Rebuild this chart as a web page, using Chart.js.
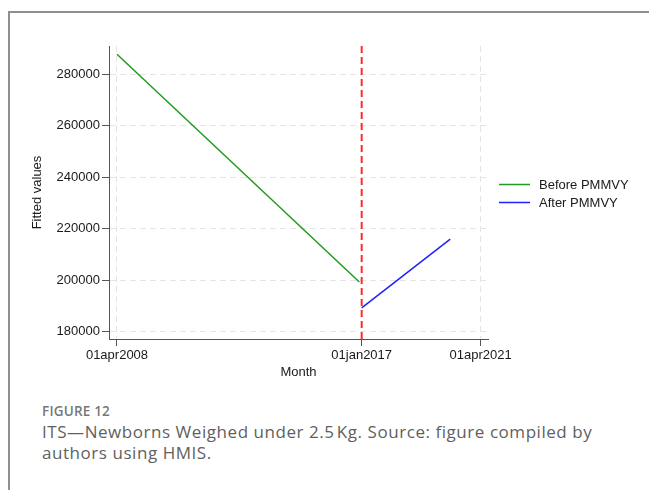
<!DOCTYPE html>
<html>
<head>
<meta charset="utf-8">
<script src="https://cdn.jsdelivr.net/npm/chart.js@4.4.1/dist/chart.umd.min.js"></script>
<style>
  html, body { margin: 0; padding: 0; background: #fff; overflow: hidden; }
  #page { position: relative; width: 649px; height: 490px; overflow: hidden; }
  #frame { position: absolute; left: 8px; top: 11px; width: 700px; height: 600px;
           border: 2px solid #8f8f8f; box-sizing: border-box; }
  #plot { position: absolute; left: 0; top: 0; }
  #figno { position: absolute; left: 42px; top: 402px; font-family: "Open Sans", sans-serif;
           font-weight: 600; font-size: 13.5px; color: #777; letter-spacing: 0.2px; }
  #caption { position: absolute; left: 42px; top: 421px; width: 575px; font-family: "Open Sans", sans-serif;
             font-weight: 400; font-size: 17px; line-height: 21px; color: #5f5f5f; letter-spacing: 0.55px; }
</style>
</head>
<body>
<div id="page">
  <div id="frame"></div>
  <canvas id="plot" width="649" height="390"></canvas>
  <div id="figno">FIGURE 12</div>
  <div id="caption">ITS—Newborns Weighed under 2.5&#8202;Kg. Source: figure compiled by authors using HMIS.</div>
</div>
<script>
// Months counted from April 2008
const tickMonths = [0, 105, 156];
const tickLabels = ['01apr2008', '01jan2017', '01apr2021'];
const yTicks = [180000, 200000, 220000, 240000, 260000, 280000];

// Fitted values before and after the programme start
const beforeMonths = [0, 104];
const beforeFitted = [287800, 199300];
const afterMonths = [105, 143];
const afterFitted = [189250, 216000];

// Programme start (January 2017)
const cutoffMonth = 105;

const xMin = -3.43, xMax = 159.2;
const yMin = 177165, yMax = 291000;

const toPoints = (xs, ys) => xs.map((x, i) => ({ x: x, y: ys[i] }));

Chart.defaults.font.family = '"Liberation Sans", Arial, Helvetica, sans-serif';
Chart.defaults.font.size = 13;
Chart.defaults.color = '#1a1a1a';

// Line-sample legend placed to the right of the plot area
const sideLegend = {
  id: 'sideLegend',
  afterDraw(chart) {
    const { ctx, chartArea } = chart;
    const items = chart.data.datasets.filter(d => d.label);
    const midY = (chartArea.top + chartArea.bottom) / 2;
    const rowH = 18;
    const startY = midY - (items.length - 1) * rowH / 2;
    ctx.save();
    ctx.font = '13px "Liberation Sans", Arial, sans-serif';
    ctx.textBaseline = 'middle';
    ctx.fillStyle = '#1a1a1a';
    items.forEach((d, i) => {
      const y = Math.round(startY + i * rowH) + 0.5;
      ctx.strokeStyle = d.borderColor;
      ctx.lineWidth = 1.5;
      ctx.beginPath();
      ctx.moveTo(chartArea.right + 11, y);
      ctx.lineTo(chartArea.right + 42, y);
      ctx.stroke();
      ctx.fillText(d.label, chartArea.right + 51, y + 0.5);
    });
    ctx.restore();
  }
};

new Chart(document.getElementById('plot'), {
  type: 'line',
  data: {
    datasets: [
      {
        label: 'Before PMMVY',
        data: toPoints(beforeMonths, beforeFitted),
        borderColor: '#1f9a1f',
        borderWidth: 1.5,
        pointRadius: 0,
        tension: 0
      },
      {
        label: 'After PMMVY',
        data: toPoints(afterMonths, afterFitted),
        borderColor: '#2020ff',
        borderWidth: 1.5,
        pointRadius: 0,
        tension: 0
      },
      {
        label: '',
        data: toPoints([cutoffMonth, cutoffMonth], [yMax, yMin]),
        borderColor: '#ff2a2a',
        borderWidth: 2,
        borderDash: [7, 4],
        pointRadius: 0,
        tension: 0
      }
    ]
  },
  options: {
    responsive: false,
    animation: false,
    devicePixelRatio: 1,
    layout: { padding: { left: 29.5, top: 46, right: 161, bottom: 10 } },
    plugins: { legend: { display: false }, tooltip: { enabled: false } },
    scales: {
      x: {
        type: 'linear',
        min: xMin,
        max: xMax,
        afterBuildTicks: s => { s.ticks = tickMonths.map(v => ({ value: v })); },
        afterFit: s => { s.height = 41; },
        ticks: {
          autoSkip: false,
          maxRotation: 0,
          padding: 2,
          callback: v => tickLabels[tickMonths.indexOf(v)]
        },
        grid: {
          color: c => (c.tick && c.tick.value === cutoffMonth ? 'rgba(0,0,0,0)' : '#e4e4e4'),
          lineWidth: 1, tickColor: '#555', tickLength: 7, tickWidth: 1
        },
        border: { color: '#555', width: 1, dash: [6, 4] },
        title: { display: true, text: 'Month', padding: 0 }
      },
      y: {
        type: 'linear',
        min: yMin,
        max: yMax,
        afterBuildTicks: s => { s.ticks = yTicks.map(v => ({ value: v })); },
        afterFit: s => { s.width = 79.5; },
        ticks: { padding: 2, callback: v => String(v) },
        grid: { color: '#e4e4e4', lineWidth: 1, tickColor: '#555', tickLength: 7, tickWidth: 1 },
        border: { color: '#555', width: 1, dash: [6, 4] },
        title: { display: true, text: 'Fitted values', padding: 0 }
      }
    }
  },
  plugins: [sideLegend]
});
</script>
</body>
</html>
